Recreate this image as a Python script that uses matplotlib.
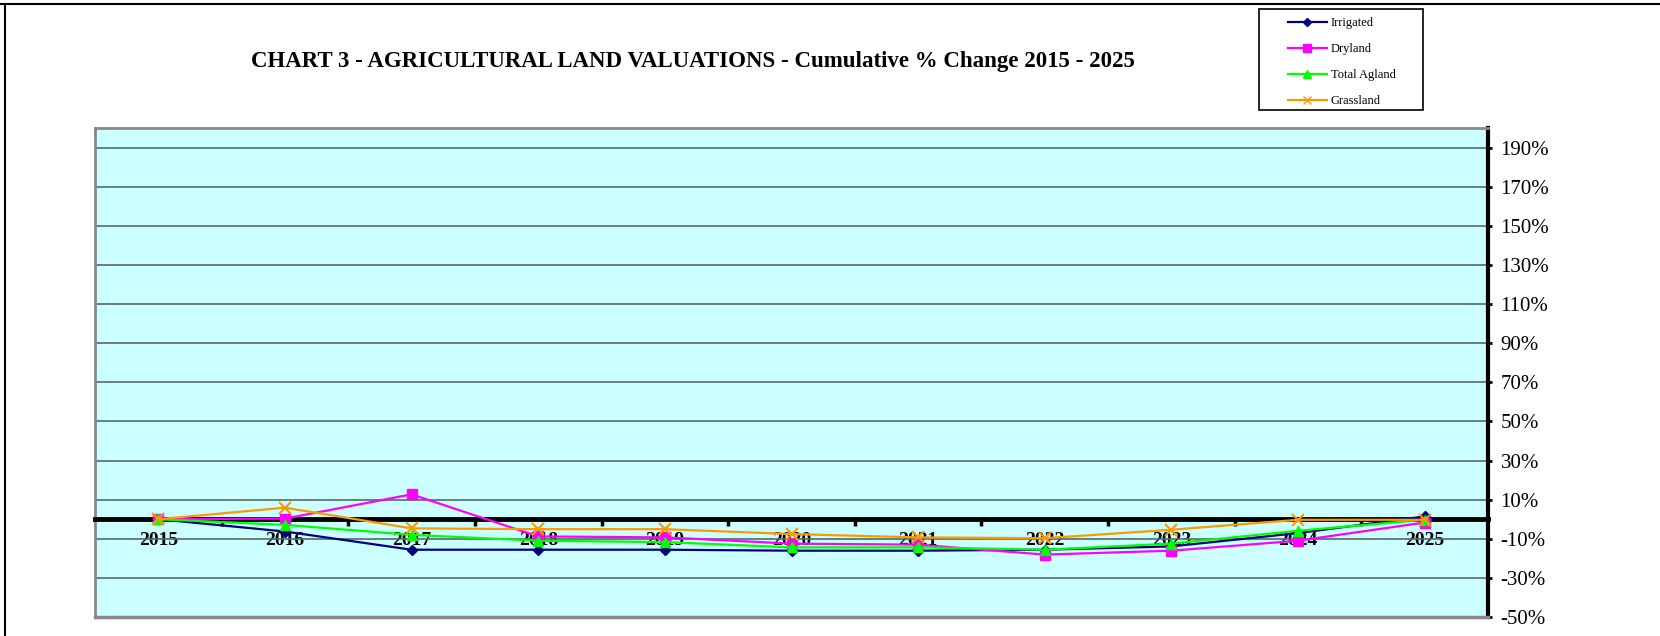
import matplotlib
matplotlib.use("Agg")
import matplotlib.pyplot as plt
from matplotlib.lines import Line2D
from matplotlib.patches import Rectangle
from matplotlib.ticker import FixedLocator, FuncFormatter

years = ["2015", "2016", "2017", "2018", "2019", "2020", "2021", "2022", "2023", "2024", "2025"]
irrigated = [0.0, -6.3, -15.6, -15.6, -15.6, -16.1, -16.1, -15.6, -13.9, -7.1, 1.4]
dryland = [0.0, 0.3, 12.7, -8.8, -9.3, -12.5, -13.0, -18.1, -16.1, -11.0, -1.7]
total_agland = [0.0, -2.9, -8.0, -11.0, -11.7, -14.4, -14.4, -15.6, -12.5, -5.9, -0.3]
grassland = [0.0, 5.9, -4.7, -5.1, -5.1, -7.6, -9.3, -9.7, -5.4, -0.3, -0.3]

series = [
    ("Irrigated", irrigated, "#000080", "D", 5.5),
    ("Dryland", dryland, "#FF00FF", "s", 7),
    ("Total Agland", total_agland, "#00FF00", "^", 7),
    ("Grassland", grassland, "#FF9900", "x", 8),
]

serif = ["Liberation Serif", "DejaVu Serif"]
W, H = 1660, 636
fig = plt.figure(figsize=(W / 100, H / 100), dpi=100)
fig.patch.set_facecolor("white")

ax = fig.add_axes([95 / W, 1 - 617 / H, (1488 - 95) / W, (617 - 128) / H])
ax.set_facecolor("#CCFFFF")
x = list(range(len(years)))

for name, vals, col, mk, ms in series:
    ax.plot(x, vals, color=col, lw=1.6, marker=mk, markersize=ms,
            markeredgecolor=col, markerfacecolor=col,
            markeredgewidth=1.5 if mk == "x" else 1, zorder=5)

ax.set_xlim(-0.5, len(years) - 0.5)
ax.set_ylim(-50, 200)

# y axis on right
ax.yaxis.tick_right()
ax.yaxis.set_major_locator(FixedLocator(list(range(-50, 200, 20))))
ax.yaxis.set_major_formatter(FuncFormatter(lambda v, p: f"{int(round(v))}%"))
ax.tick_params(axis="y", which="major", direction="out", length=3, width=2,
               pad=6, labelsize=15, color="black")
for lab in ax.get_yticklabels():
    lab.set_fontfamily(serif)
ax.grid(axis="y", color="#54696a", lw=1.2, zorder=1)
ax.set_axisbelow(True)

# x axis at zero
ax.spines["bottom"].set_position(("data", 0))
ax.spines["bottom"].set_linewidth(3.5)
ax.spines["bottom"].set_color("black")
ax.spines["bottom"].set_zorder(4)
ax.set_xticks(x)
ax.set_xticklabels(years)
ax.xaxis.set_minor_locator(FixedLocator([i + 0.5 for i in range(len(years) - 1)]))
ax.tick_params(axis="x", which="major", length=0, pad=9, labelsize=14)
ax.tick_params(axis="x", which="minor", direction="out", length=5, width=2.5, color="black")
for lab in ax.get_xticklabels():
    lab.set_fontfamily(serif)
    lab.set_fontweight("bold")

ax.spines["right"].set_linewidth(3)
ax.spines["right"].set_color("black")
ax.spines["left"].set_color("#888888")
ax.spines["left"].set_linewidth(2)
ax.spines["top"].set_color("#888888")
ax.spines["top"].set_linewidth(2)
ax.plot([0, 1], [0, 0], transform=ax.transAxes, color="#888888", lw=2.5,
        clip_on=False, zorder=3)

# Title
fig.text(693 / W, 1 - 62 / H,
         "CHART 3 - AGRICULTURAL LAND VALUATIONS - Cumulative % Change 2015 - 2025",
         ha="center", va="center", fontsize=16.5, fontweight="bold", family=serif)

# Legend
handles = [Line2D([0], [0], color=col, lw=1.6, marker=mk, markersize=ms * 0.8,
                  markeredgecolor=col, markerfacecolor=col)
           for name, vals, col, mk, ms in series]
labels = [s[0] for s in series]
leg = fig.legend(handles, labels, loc="upper left",
                 bbox_to_anchor=(1288 / W, 1 - 17 / H), frameon=False,
                 prop={"family": serif, "size": 9}, handlelength=3.1,
                 handletextpad=0.3, labelspacing=1.12, borderpad=0, borderaxespad=0)
fig.add_artist(Rectangle((1259 / W, 1 - 110 / H), (1423 - 1259) / W, (110 - 8.5) / H,
                         transform=fig.transFigure, fill=False, edgecolor="black", lw=1.2))

# figure border
fig.add_artist(Line2D([0, 1], [1 - 4 / H, 1 - 4 / H], transform=fig.transFigure,
                      color="black", lw=1.5))
fig.add_artist(Line2D([5 / W, 5 / W], [0, 1 - 4 / H], transform=fig.transFigure,
                      color="black", lw=1.5))

fig.savefig("out.png", dpi=100)
